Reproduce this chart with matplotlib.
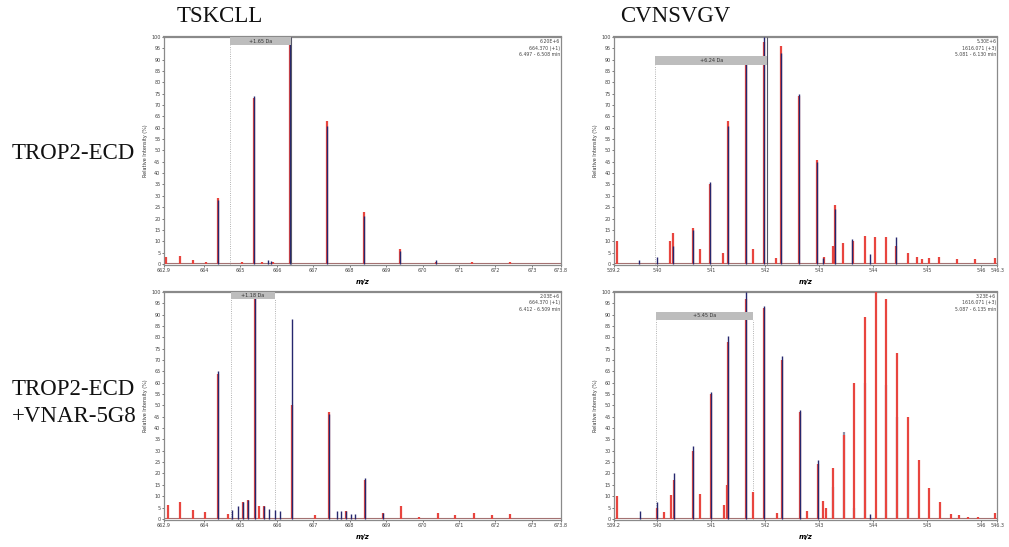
import matplotlib
matplotlib.use("Agg")
import matplotlib.pyplot as plt

RED = '#e8453f'
BLUE = '#26276e'
GREY = '#8e8fa6'

# ---- TSKCLL, TROP2-ECD ----
tl_red_mz = [662.95, 663.35, 663.7, 664.05, 664.37, 665.05, 665.37, 665.6, 665.9, 666.37,
             667.37, 668.38, 669.38, 670.38, 671.35, 672.4]
tl_red_int = [3, 3.5, 1.5, 1, 29, 1, 73, 1, 1, 100, 63, 23, 6.5, 1, 0.8, 0.8]
tl_blue_mz = [664.37, 665.37, 665.75, 665.85, 666.37, 667.37, 668.38, 669.38, 670.38]
tl_blue_int = [28, 74, 1.5, 1.2, 100, 61, 21, 5.5, 1.5]

# ---- CVNSVGV, TROP2-ECD ----
tr_red_mz = [539.26, 540.24, 540.30, 540.66, 540.79, 540.98, 541.22, 541.31, 541.64, 541.78,
             541.97, 542.2, 542.30, 542.63, 542.96, 543.08, 543.26, 543.29, 543.45, 543.63,
             543.85, 544.04, 544.23, 544.43, 544.64, 544.82, 544.9, 545.03, 545.22, 545.55,
             545.89, 546.25]
tr_red_int = [10, 10, 13.5, 16, 6.5, 35, 5, 63, 88, 6.5, 98, 2.5, 96, 74, 46, 3, 8, 26, 9, 10,
              12.5, 12, 12, 8, 5, 3, 2, 2.5, 3, 2, 2, 2.5]
tr_blue_mz = [539.67, 540.0, 540.30, 540.66, 540.98, 541.31, 541.64, 541.97, 542.30, 542.63,
              542.96, 543.07, 543.29, 543.61, 543.94, 544.43]
tr_blue_int = [1.5, 3, 8, 15, 36, 61, 89, 100, 93, 75, 45, 2.5, 24, 11, 4.5, 12]

# ---- TSKCLL, TROP2-ECD + VNAR-5G8 ----
bl_red_mz = [663.0, 663.35, 663.69, 664.02, 664.38, 664.65, 665.07, 665.21, 665.39, 665.50,
             665.65, 666.42, 667.04, 667.42, 667.9, 668.42, 668.91, 669.42, 669.9, 670.41,
             670.9, 671.40, 671.9, 672.41]
bl_red_int = [6, 7.5, 4, 3, 64, 2, 7.5, 8.5, 97, 5.5, 5.5, 50, 1.5, 47, 3.5, 17, 2.5, 5.5, 1,
              2.5, 1.5, 2.5, 1.5, 2]
bl_blue_mz = [664.38, 664.78, 664.92, 665.07, 665.21, 665.39, 665.65, 665.79, 665.94, 666.09,
              666.42, 667.42, 667.64, 667.77, 667.90, 668.03, 668.15, 668.42, 668.91]
bl_blue_int = [65, 4, 5.5, 7.5, 8.5, 100, 5.5, 4.5, 4, 3.5, 88, 46, 3.5, 3.5, 3.5, 2, 2, 18, 2.5]

# ---- CVNSVGV, TROP2-ECD + VNAR-5G8 ----
br_red_mz = [539.26, 540.0, 540.12, 540.25, 540.32, 540.67, 540.80, 541.0, 541.23, 541.29,
             541.32, 541.65, 541.78, 541.98, 542.22, 542.31, 542.64, 542.78, 542.97, 543.07,
             543.13, 543.25, 543.46, 543.65, 543.85, 544.05, 544.24, 544.44, 544.64, 544.84,
             545.04, 545.24, 545.44, 545.58, 545.76, 545.94, 546.25]
br_red_int = [10, 5, 3, 10.5, 17, 30, 11, 55, 6, 15, 78, 97, 12, 93, 2.5, 70, 47, 3.5, 24, 8,
              5, 22.5, 37, 60, 89, 100, 97, 73, 45, 26, 13.5, 7.5, 2, 1.5, 1, 1, 2.5]
br_grey_mz = [543.25, 543.46, 543.65, 543.85, 544.24, 544.44, 544.64]
br_grey_int = [14, 38.5, 5, 60, 59, 45, 26]
br_blue_mz = [539.68, 540.0, 540.32, 540.67, 541.0, 541.32, 541.65, 541.98, 542.31, 542.64,
              542.97, 543.95]
br_blue_int = [3.5, 7.5, 20, 32, 56, 80.5, 100, 94, 72, 48, 26, 2]

panel_info = {
    'tl': ('6.20E+6', '664.370 (+1)', '6.497 - 6.508 min'),
    'tr': ('5.30E+6', '1616.071 (+3)', '5.081 - 6.130 min'),
    'bl': ('2.03E+6', '664.370 (+1)', '6.412 - 6.509 min'),
    'br': ('3.23E+6', '1616.071 (+3)', '5.087 - 6.135 min'),
}


def draw_panel(ax, xlim, ticks, red, blue, grey, bar, info, solid_end=False):
    ax.axhline(0.5, color='#a47272', lw=0.8, zorder=1)
    if grey is not None:
        ax.vlines(grey[0], 0, grey[1], color=GREY, lw=1.6, zorder=2)
    ax.vlines(red[0], 0, red[1], color=RED, lw=1.6, zorder=3)
    ax.vlines(blue[0], 0, blue[1], color=BLUE, lw=1.0, zorder=4)

    x0, x1, y0, y1, label = bar
    ax.fill_between([x0, x1], y0, y1, color='#bdbdbd', zorder=5, lw=0)
    ax.text((x0 + x1) / 2, (y0 + y1) / 2, label, ha='center', va='center', fontsize=3.5,
            color='#333333', zorder=6)
    ax.vlines(x0, 0, y0, color='#9a9a9a', lw=0.6, linestyles=':', zorder=2)
    if solid_end:
        ax.vlines(x1, 0, 100, color='#555566', lw=0.8, zorder=4)
    else:
        ax.vlines(x1, 0, y0, color='#9a9a9a', lw=0.6, linestyles=':', zorder=2)

    ax.text(0.997, 0.99, '\n'.join(info), transform=ax.transAxes, ha='right', va='top',
            fontsize=3.3, color='#444444', linespacing=1.3)

    ax.set_xlim(*xlim)
    ax.set_ylim(-0.5, 100)
    ax.set_xticks(ticks)
    ax.set_xticklabels(['%g' % t for t in ticks])
    ax.set_yticks(range(0, 101, 5))
    ax.tick_params(labelsize=3.5, length=1.5, width=0.5, pad=1, colors='#444444')
    ax.set_ylabel('Relative Intensity (%)', fontsize=3.5, labelpad=2, color='#333333')
    ax.set_xlabel('m/z', fontsize=5, style='italic', weight='bold', labelpad=4)
    for s in ax.spines.values():
        s.set_color('#8a8a8a')
        s.set_linewidth(0.9)
    ax.spines['top'].set_linewidth(1.6)


fig = plt.figure(figsize=(10.09, 5.47), dpi=100)

ax_tl = fig.add_axes([0.1625, 0.5155, 0.3935, 0.4168])
ax_tr = fig.add_axes([0.6085, 0.5155, 0.3800, 0.4168])
ax_bl = fig.add_axes([0.1625, 0.0494, 0.3935, 0.4168])
ax_br = fig.add_axes([0.6085, 0.0494, 0.3800, 0.4168])

left_ticks = [662.9, 664, 665, 666, 667, 668, 669, 670, 671, 672, 673, 673.8]
right_ticks = [539.2, 540, 541, 542, 543, 544, 545, 546, 546.3]

draw_panel(ax_tl, (662.9, 673.8), left_ticks, (tl_red_mz, tl_red_int), (tl_blue_mz, tl_blue_int),
           None, (664.72, 666.38, 96.5, 100, '+1.65 Da'), panel_info['tl'], solid_end=True)
draw_panel(ax_tr, (539.2, 546.3), right_ticks, (tr_red_mz, tr_red_int), (tr_blue_mz, tr_blue_int),
           None, (539.96, 542.04, 87.7, 91.7, '+6.24 Da'), panel_info['tr'], solid_end=True)
draw_panel(ax_bl, (662.9, 673.8), left_ticks, (bl_red_mz, bl_red_int), (bl_blue_mz, bl_blue_int),
           None, (664.75, 665.94, 96.8, 100, '+1.18 Da'), panel_info['bl'])
draw_panel(ax_br, (539.2, 546.3), right_ticks, (br_red_mz, br_red_int), (br_blue_mz, br_blue_int),
           (br_grey_mz, br_grey_int), (539.98, 541.77, 87.7, 91.2, '+5.45 Da'), panel_info['br'])

serif = dict(family='Liberation Serif', fontsize=16.5, color='#111111')
fig.text(220 / 1009, 1 - 17 / 547, 'TSKCLL', ha='center', va='center', **serif)
fig.text(675 / 1009, 1 - 17 / 547, 'CVNSVGV', ha='center', va='center', **serif)
fig.text(12 / 1009, 1 - 153 / 547, 'TROP2-ECD', ha='left', va='center', **serif)
fig.text(12 / 1009, 1 - 403 / 547, 'TROP2-ECD\n+VNAR-5G8', ha='left', va='center',
         linespacing=1.35, **serif)

fig.savefig('out.png', dpi=100)
